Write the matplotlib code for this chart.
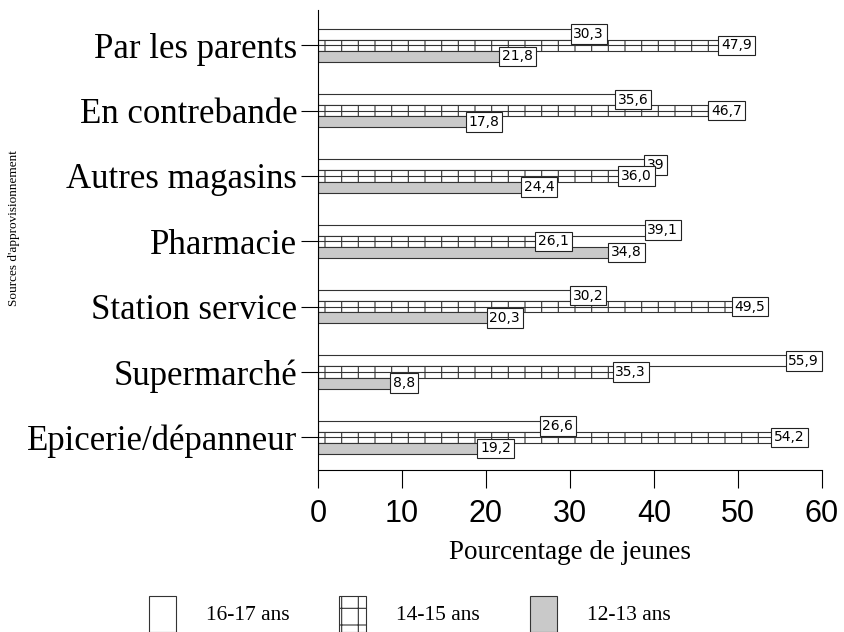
import matplotlib.pyplot as plt
import matplotlib.patches as mpatches
import numpy as np

# sources, listed bottom to top as drawn
sources = ['Epicerie/dépanneur', 'Supermarché', 'Station service', 'Pharmacie',
           'Autres magasins', 'En contrebande', 'Par les parents']
ans_16_17 = [26.6, 55.9, 30.2, 39.1, 39, 35.6, 30.3]
ans_14_15 = [54.2, 35.3, 49.5, 26.1, 36.0, 46.7, 47.9]
ans_12_13 = [19.2, 8.8, 20.3, 34.8, 24.4, 17.8, 21.8]
labels_16_17 = ['26,6', '55,9', '30,2', '39,1', '39', '35,6', '30,3']
labels_14_15 = ['54,2', '35,3', '49,5', '26,1', '36,0', '46,7', '47,9']
labels_12_13 = ['19,2', '8,8', '20,3', '34,8', '24,4', '17,8', '21,8']
groups = ['16-17 ans', '14-15 ans', '12-13 ans']

serif = 'Liberation Serif'
plt.rcParams['hatch.linewidth'] = 0.8

fig = plt.figure(figsize=(8.45, 6.32), dpi=100)
ax = fig.add_axes([318/845, 1 - 470/632, (822 - 318)/845, 460/632])

y = np.arange(len(sources))
h = 0.17

ax.barh(y + h, ans_16_17, h, color='white', edgecolor='#333333', lw=0.8)
ax.barh(y, ans_14_15, h, color='white', edgecolor='#333333', lw=0.8, hatch='|')
ax.hlines(y, 0, ans_14_15, color='#333333', lw=0.8)
ax.barh(y - h, ans_12_13, h, color='#c9c9c9', edgecolor='#333333', lw=0.8)

for off, vals, labs in [(h, ans_16_17, labels_16_17), (0, ans_14_15, labels_14_15),
                        (-h, ans_12_13, labels_12_13)]:
    for yi, v, t in zip(y, vals, labs):
        ax.text(v + 0.1, yi + off, t, ha='left', va='center', fontsize=10,
                family='DejaVu Sans',
                bbox=dict(boxstyle='square,pad=0.2', fc='white', ec='#222222', lw=0.8))

ax.set_xlim(0, 60)
ax.set_ylim(-0.5, 6.54)
ax.set_yticks(y)
ax.set_yticklabels(sources, family=serif, fontsize=25)
ax.set_xticks(np.arange(0, 61, 10))
ax.set_xticklabels([str(v) for v in range(0, 61, 10)], family='Liberation Sans',
                   fontsize=22)
ax.tick_params(axis='y', length=12, width=0.8, pad=3)
ax.tick_params(axis='x', length=13, width=0.8, pad=8)
ax.spines['top'].set_visible(False)
ax.spines['right'].set_visible(False)
ax.spines['left'].set_linewidth(0.8)
ax.spines['bottom'].set_linewidth(0.8)
ax.set_xlabel('Pourcentage de jeunes', family=serif, fontsize=19.5, labelpad=8)

fig.text(14/845, 1 - 228/632, "Sources d'approvisionnement", rotation=90,
         ha='center', va='center', family=serif, fontsize=9.5)

handles = [mpatches.Patch(fc='white', ec='#333333', lw=0.8),
           mpatches.Patch(fc='white', ec='#333333', lw=0.8, hatch='+'),
           mpatches.Patch(fc='#c9c9c9', ec='#333333', lw=0.8)]
fig.legend(handles, groups, loc='lower center', bbox_to_anchor=(0.485, -0.03),
           ncol=3, frameon=False, prop={'family': serif, 'size': 15.5},
           handlelength=1.25, handleheight=2.2, columnspacing=2.3, handletextpad=1.4)

fig.savefig('out.png', dpi=100)
